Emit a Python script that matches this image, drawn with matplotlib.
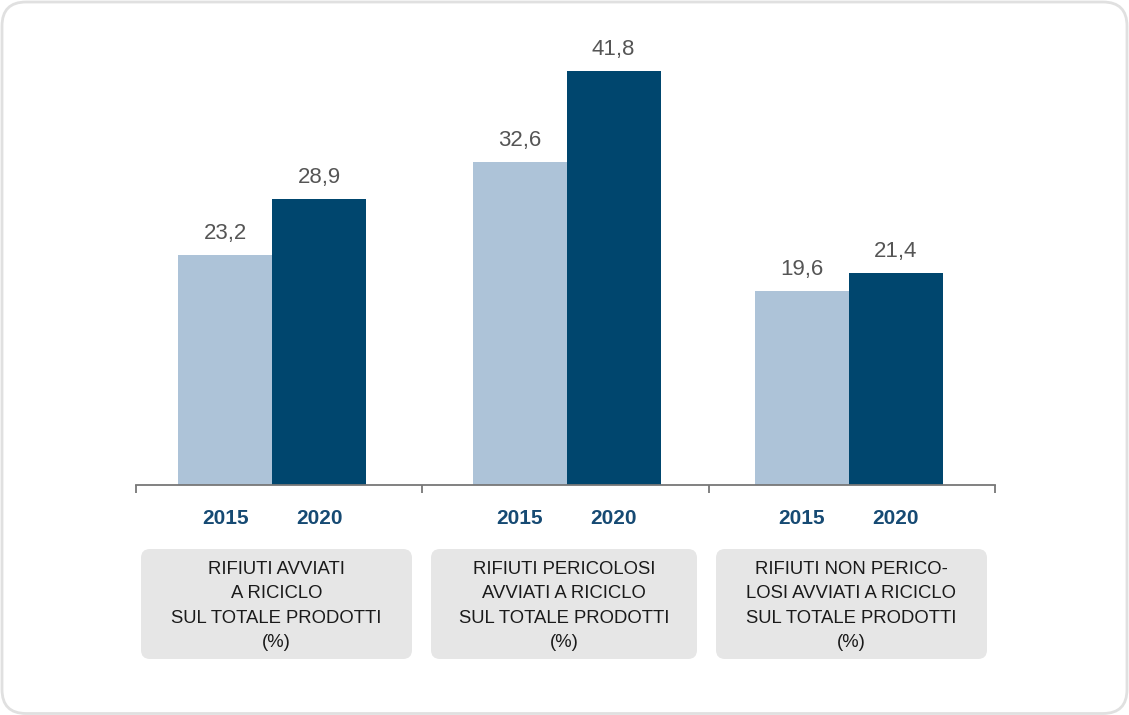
import numpy as np
import matplotlib
matplotlib.use("Agg")
import matplotlib.pyplot as plt
from matplotlib.patches import FancyBboxPatch
from matplotlib.transforms import blended_transform_factory

# --- data -------------------------------------------------------------
categories = [
    "RIFIUTI AVVIATI\nA RICICLO\nSUL TOTALE PRODOTTI\n(%)",
    "RIFIUTI PERICOLOSI\nAVVIATI A RICICLO\nSUL TOTALE PRODOTTI\n(%)",
    "RIFIUTI NON PERICO-\nLOSI AVVIATI A RICICLO\nSUL TOTALE PRODOTTI\n(%)",
]
years = ["2015", "2020"]
values_2015 = [23.2, 32.6, 19.6]
values_2020 = [28.9, 41.8, 21.4]

# --- style ------------------------------------------------------------
plt.rcParams["font.family"] = ["Liberation Sans", "DejaVu Sans"]
W, H = 1129, 715
light = "#adc3d8"
dark = "#00466e"
year_color = "#164a73"
value_color = "#555555"

fig = plt.figure(figsize=(W / 100, H / 100), dpi=100)
fig.patch.set_facecolor("white")

# outer rounded frame
frame = FancyBboxPatch((2 / W, 1.5 / H), (W - 4) / W, (H - 3.5) / H,
                       boxstyle=f"round,pad=0,rounding_size={24 / W}",
                       mutation_aspect=W / H, transform=fig.transFigure,
                       facecolor="none", edgecolor="#e0e0e0", linewidth=2,
                       zorder=-1)
fig.patches.append(frame)

# plotting area
ax_left, ax_right = 136, 995
base_y = 485
top_y = 40
ax = fig.add_axes([ax_left / W, (H - base_y) / H,
                   (ax_right - ax_left) / W, (base_y - top_y) / H])
ax.set_facecolor("none")
ax.set_zorder(2)
px_per_unit = 9.91
ax.set_xlim(-0.5, 2.5)
ax.set_ylim(0, (base_y - top_y) / px_per_unit)

group_px = (ax_right - ax_left) / 3
# small horizontal nudges of each bar pair inside its group (pixels)
group_shift_px = np.array([-7, 1, -3])
x = np.arange(len(categories)) + group_shift_px / group_px
bw = 94 / group_px
b1 = ax.bar(x - bw / 2, values_2015, bw, color=light, zorder=2)
b2 = ax.bar(x + bw / 2, values_2020, bw, color=dark, zorder=2)

for bars, vals in ((b1, values_2015), (b2, values_2020)):
    for rect, v in zip(bars, vals):
        ax.annotate(f"{v:.1f}".replace(".", ","),
                    (rect.get_x() + rect.get_width() / 2, v),
                    xytext=(0, 15.5), textcoords="offset points",
                    ha="center", va="center", fontsize=16,
                    color=value_color)

# axis styling
for s in ("top", "right", "left"):
    ax.spines[s].set_visible(False)
ax.spines["bottom"].set_color("#777777")
ax.spines["bottom"].set_linewidth(1.3)
ax.set_yticks([])
ax.set_xticks([-0.5, 0.5, 1.5, 2.5])
ax.set_xticklabels([])
ax.tick_params(axis="x", direction="out", length=6, width=1.3,
               color="#777777")

# year labels under each bar
tr = blended_transform_factory(ax.transData, fig.transFigure)
for xi in x:
    for off, yr in ((-bw / 2, years[0]), (bw / 2, years[1])):
        ax.text(xi + off, 1 - 518 / H, yr, transform=tr, ha="center",
                va="center", fontsize=15, fontweight="bold",
                color=year_color, clip_on=False)

# category boxes (left, right edges in pixels)
box_edges = [(141, 412), (431, 697), (716, 987)]
box_top, box_bot = 549, 659
for (l, r), label in zip(box_edges, categories):
    box = FancyBboxPatch((l / W, (H - box_bot) / H),
                         (r - l) / W, (box_bot - box_top) / H,
                         boxstyle=f"round,pad=0,rounding_size={9 / W}",
                         mutation_aspect=W / H, transform=fig.transFigure,
                         facecolor="#e6e6e6", edgecolor="none")
    fig.patches.append(box)
    fig.text(((l + r) / 2) / W, 1 - ((box_top + box_bot) / 2 + 2) / H, label,
             ha="center", va="center", fontsize=13.3, color="#1a1a1a",
             linespacing=1.58)

fig.savefig("out.png", dpi=100, facecolor="white")
